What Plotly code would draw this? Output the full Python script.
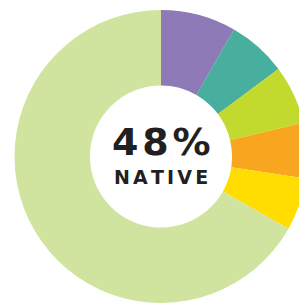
import plotly.graph_objects as go

categories = ["Purple group", "Teal group", "Lime group", "Orange group", "Yellow group", "Native"]
values = [8.3, 6.5, 6.5, 6.1, 5.8, 66.8]
colors = ["#8E7AB6", "#48AE9D", "#C2D92E", "#F8A51F", "#FFDD00", "#D1E49F"]
center_big = "48%"
center_small = "NATIVE"

W, H = 310, 304
cx, cy, R = 161, 156.5, 146.5

fig = go.Figure(go.Pie(
    labels=categories,
    values=values,
    marker=dict(colors=colors, line=dict(width=0)),
    hole=0.485,
    sort=False,
    direction="clockwise",
    rotation=0,
    textinfo="none",
    showlegend=False,
    domain=dict(x=[(cx - R) / W, (cx + R) / W], y=[(H - cy - R) / H, (H - cy + R) / H]),
))

def tracked(s, sp):
    return sp.join(s)

fig.add_annotation(x=(cx) / W, y=(H - 142) / H, xref="paper", yref="paper",
                   text=tracked(center_big, "\u200a"), showarrow=False,
                   font=dict(family="DejaVu Sans", size=38, color="#231F20", weight="bold"))
fig.add_annotation(x=(cx) / W, y=(H - 177.5) / H, xref="paper", yref="paper",
                   text=tracked(center_small, "\u2006"), showarrow=False,
                   font=dict(family="DejaVu Sans", size=19, color="#231F20", weight="bold"))

fig.update_layout(width=W, height=H, margin=dict(l=0, r=0, t=0, b=0),
                  paper_bgcolor="white", plot_bgcolor="white")
fig.write_html("out.html", config={"displayModeBar": False},
               post_script="document.body.style.margin='0';document.body.style.overflow='hidden';")
